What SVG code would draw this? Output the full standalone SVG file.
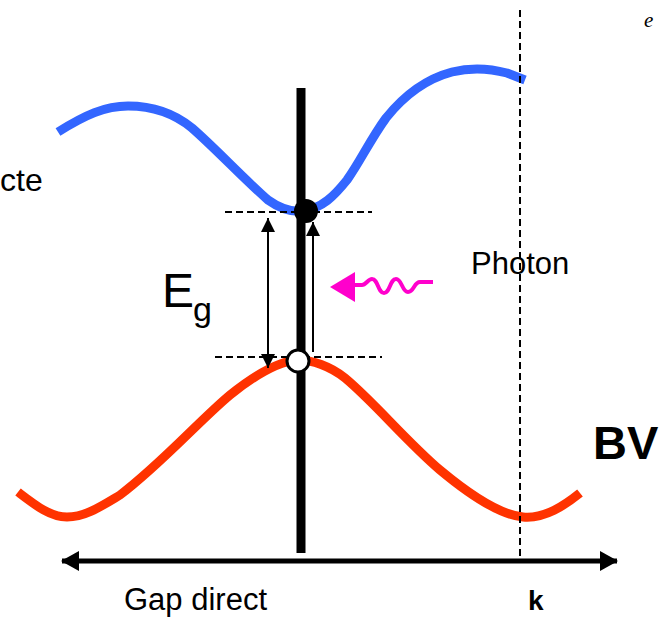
<svg xmlns="http://www.w3.org/2000/svg" width="662" height="620" viewBox="0 0 662 620">
<style>
.txt{font-family:"Liberation Sans",Arial,sans-serif;fill:#000}
.band{fill:none;stroke-width:9;stroke-linejoin:round}
.dash{fill:none;stroke:#000;stroke-width:2;stroke-dasharray:7 4}
.thin{fill:none;stroke:#000;stroke-width:2}
</style>
<defs>
<marker id="ah" markerWidth="14" markerHeight="14" refX="14" refY="7" orient="auto-start-reverse" markerUnits="userSpaceOnUse">
<path d="M0,0 L14,7 L0,14 Z" fill="#000"/>
</marker>
<marker id="axh" markerWidth="18" markerHeight="20" refX="17" refY="10" orient="auto-start-reverse" markerUnits="userSpaceOnUse">
<path d="M0,0 L18,10 L0,20 Z" fill="#000"/>
</marker>
</defs>
<rect width="662" height="620" fill="#fff"/>

<g id="conduction-band">
<path class="band" stroke="#3366FF" d="M58,132 C85,115 105,106 128,106 C155,106 175,114 192,128 C215,148 245,180 268,200 C282,210 292,212 302,211 C322,209 335,195 347,180 C360,162 370,140 386,118 C402,98 422,80 452,72 C472,67 492,69 507,73 L525,80"/>
</g>
<g id="valence-band">
<path class="band" stroke="#FF3300" d="M18,492 C35,505 50,517 67,517 C85,517 100,507 120,495 C160,465 200,420 230,395 C255,375 278,361 298,360 C312,360 330,366 345,378 C375,403 405,440 440,470 C470,495 500,515 523,517 C545,519 565,505 580,493"/>
</g>

<g id="connectors">
<line class="dash" x1="520" y1="10" x2="520" y2="556" stroke-dasharray="8 4"/>
<line x1="301" y1="88" x2="301" y2="553" stroke="#000" stroke-width="9"/>
<line class="dash" x1="225" y1="212" x2="372" y2="212"/>
<line class="dash" x1="215" y1="357" x2="382" y2="357"/>
<line class="thin" x1="268" y1="218" x2="268" y2="368" marker-start="url(#ah)" marker-end="url(#ah)"/>
<line class="thin" x1="313" y1="352" x2="313" y2="222" marker-end="url(#ah)"/>
<line x1="62" y1="561" x2="617" y2="561" stroke="#000" stroke-width="5" marker-start="url(#axh)" marker-end="url(#axh)"/>
</g>

<g id="electron">
<circle cx="306" cy="211" r="12" fill="#000"/>
</g>
<g id="hole">
<circle cx="298" cy="361" r="11" fill="#fff" stroke="#000" stroke-width="3"/>
</g>

<g id="photon">
<path d="M330,287 L355,272 L355,302 Z" fill="#FF00CC"/>
<path d="M352,285 L362,285 C366,285 368,279 372,279 C378,279 378,293 384,293 C390,293 390,279 396,279 C402,279 402,292 408,292 C414,292 414,282 420,282 L433,282" fill="none" stroke="#FF00CC" stroke-width="4"/>
</g>

<g id="labels">
<text class="txt" x="0" y="191" font-size="32">cte</text>
<text x="644" y="27" font-family="'Liberation Serif',serif" font-style="italic" font-size="21">e</text>
<text class="txt" x="162" y="307" font-size="48">E</text>
<text class="txt" x="193" y="321" font-size="34">g</text>
<text class="txt" x="471" y="274" font-size="31">Photon</text>
<text class="txt" x="593" y="459" font-size="47" font-weight="bold">BV</text>
<text class="txt" x="124" y="610" font-size="31">Gap direct</text>
<text class="txt" x="528" y="610" font-size="28" font-weight="bold">k</text>
</g>
</svg>
